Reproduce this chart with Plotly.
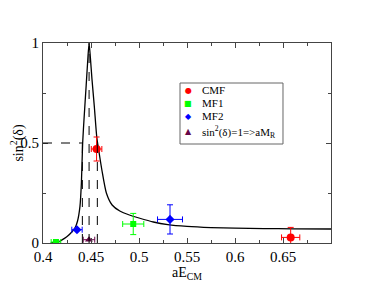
import plotly.graph_objects as go

# ---- data ----
curve_x = [0.408, 0.413, 0.418, 0.422, 0.426, 0.430, 0.4333, 0.436, 0.4385, 0.4400, 0.4413,
           0.4430, 0.4450, 0.4467, 0.4480, 0.4493, 0.4510, 0.4535, 0.4560, 0.4585, 0.4615,
           0.4660, 0.4720, 0.4800, 0.4900, 0.5000, 0.5150, 0.5300, 0.5500, 0.5750, 0.6000,
           0.6300, 0.6600, 0.7000]
curve_y = [0.000, 0.003, 0.010, 0.022, 0.036, 0.055, 0.075, 0.110, 0.183, 0.300, 0.500,
           0.640, 0.790, 0.920, 1.000, 0.930, 0.820, 0.680, 0.530, 0.450, 0.360,
           0.250, 0.190, 0.160, 0.140, 0.125, 0.105, 0.092, 0.083, 0.077, 0.074,
           0.072, 0.071, 0.070]

cmf_x = [0.4558, 0.6580]
cmf_y = [0.470, 0.028]
cmf_xerr = [0.0055, 0.0095]
cmf_yerr = [0.060, 0.050]

mf1_x = [0.4135, 0.4940]
mf1_y = [0.005, 0.095]
mf1_xerr = [0.0050, 0.0110]
mf1_yerr = [0.004, 0.053]

mf2_x = [0.4354, 0.5323]
mf2_y = [0.0665, 0.118]
mf2_xerr = [0.0054, 0.0130]
mf2_yerr = [0.0, 0.073]

mr_x = [0.4479]
mr_y = [0.0165]
mr_xerr = [0.0060]

half_left = 0.4410
peak_x = 0.4480
half_right = 0.4566
half_level = 0.5
peak_level = 1.0

x_ticks = [0.4, 0.45, 0.5, 0.55, 0.6, 0.65]
x_labels = ["0.4", "0.45", "0.5", "0.55", "0.6", "0.65"]
y_ticks = [0, 0.5, 1]
y_labels = ["0", "0.5", "1"]

series_names = ["CMF", "MF1", "MF2", "sin<sup>2</sup>(δ)=1=>aM<sub>R</sub>"]
series_colors = ["#ff0000", "#00ff00", "#0000ff", "#670748"]
series_symbols = ["circle", "square", "diamond", "triangle-up"]
legend_glyphs = ["●", "■", "◆", "▲"]

FONT = "Liberation Serif"

fig = go.Figure()

fig.add_trace(go.Scatter(x=curve_x, y=curve_y, mode="lines",
                         line=dict(color="black", width=1.3, shape="spline", smoothing=0.6),
                         showlegend=False, hoverinfo="skip"))

def add_pts(x, y, xe, ye, i, size):
    fig.add_trace(go.Scatter(
        x=x, y=y, mode="markers", name=series_names[i], showlegend=False,
        marker=dict(color=series_colors[i], symbol=series_symbols[i], size=size),
        error_x=dict(type="data", array=xe, color=series_colors[i], thickness=1, width=3),
        error_y=dict(type="data", array=ye, color=series_colors[i], thickness=1, width=3) if ye is not None else None,
    ))

add_pts(cmf_x, cmf_y, cmf_xerr, cmf_yerr, 0, 8)
add_pts(mf1_x, mf1_y, mf1_xerr, mf1_yerr, 1, 6)
add_pts(mf2_x, mf2_y, mf2_xerr, mf2_yerr, 2, 7)
add_pts(mr_x, mr_y, mr_xerr, None, 3, 7)

dash = dict(color="black", width=1, dash="dash")
fig.add_shape(type="line", xref="x", yref="y", x0=0.4, x1=half_left, y0=half_level, y1=half_level, line=dash)
fig.add_shape(type="line", xref="x", yref="y", x0=half_left, x1=half_left, y0=0, y1=half_level, line=dash)
fig.add_shape(type="line", xref="x", yref="y", x0=half_right, x1=half_right, y0=0, y1=half_level, line=dash)
fig.add_shape(type="line", xref="x", yref="y", x0=peak_x, x1=peak_x, y0=0, y1=peak_level, line=dash)

# legend box (drawn as a compact box with text entries)
fig.add_shape(type="rect", xref="paper", yref="paper", x0=0.4757, x1=0.8333, y0=0.495, y1=0.80,
              line=dict(color="#666", width=1), fillcolor="white", layer="above")
leg_y = [0.765, 0.700, 0.635, 0.555]
for i in range(4):
    fig.add_annotation(xref="paper", yref="paper", x=0.5045, y=leg_y[i], text=legend_glyphs[i],
                       showarrow=False, xanchor="center", yanchor="middle",
                       font=dict(family="DejaVu Sans", size=8, color=series_colors[i]))
    fig.add_annotation(xref="paper", yref="paper", x=0.545, y=leg_y[i], text=series_names[i],
                       showarrow=False, xanchor="left", yanchor="middle",
                       font=dict(family=FONT, size=11, color="black"))

axis_common = dict(showline=True, linecolor="#444", linewidth=1, mirror="ticks",
                   ticks="inside", ticklen=5, tickcolor="#444", showgrid=False, zeroline=False,
                   automargin=False,
                   tickfont=dict(family=FONT, size=15, color="black"))

fig.update_xaxes(range=[0.4, 0.7], tickvals=x_ticks, ticktext=x_labels,
                 minor=dict(dtick=0.025, ticks="inside", ticklen=3, tickcolor="#444", showgrid=False),
                 title=dict(text="aE<sub>CM</sub>", font=dict(family=FONT, size=14, color="black"), standoff=3),
                 **axis_common)
fig.update_yaxes(range=[0, 1], tickvals=y_ticks, ticktext=y_labels,
                 minor=dict(dtick=0.25, ticks="inside", ticklen=3, tickcolor="#444", showgrid=False),
                 title=dict(text="sin<sup>2</sup>(δ)", font=dict(family=FONT, size=14, color="black"), standoff=3),
                 **axis_common)

# page body adds an 8px offset; figure is sized so the plot area lands where the reference has it
fig.update_layout(
    width=364, height=279,
    margin=dict(l=35, r=41, t=35, b=44, autoexpand=False),
    paper_bgcolor="white", plot_bgcolor="white",
    showlegend=False,
    font=dict(family=FONT),
)

fig.write_html("out.html")
